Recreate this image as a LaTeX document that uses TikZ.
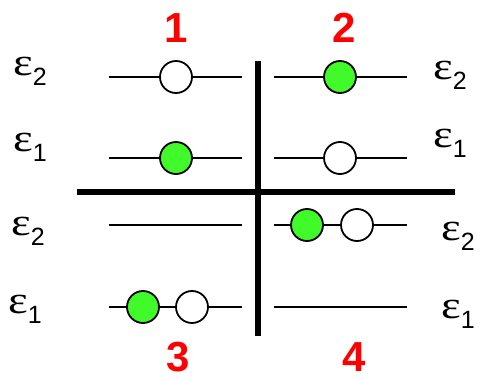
\documentclass[tikz,border=0pt]{standalone}
\usepackage{fontspec}
\setmainfont{Liberation Sans}
\newfontfamily\epsfont{Liberation Serif}
\definecolor{dotgreen}{RGB}{64,250,42}
\newcommand{\lev}[1]{\scalebox{1.2}[1]{\epsfont ε}\raisebox{-10pt}{\fontsize{25}{25}\selectfont #1}}

\begin{document}
\begin{tikzpicture}[x=1pt,y=-1pt,line cap=butt,
  level/.style={line width=2.2pt},
  bar/.style={line width=6pt},
  hole/.style={circle,draw,line width=1.8pt,fill=white,minimum size=32pt,inner sep=0pt},
  elec/.style={hole,fill=dotgreen},
  tag/.style={text=red,inner sep=0pt,font=\fontsize{42}{42}\selectfont\bfseries},
  eps/.style={anchor=base west,inner sep=0pt,font=\fontsize{39}{39}\selectfont}]
\useasboundingbox (0,0) rectangle (481,379);
% level end points
\coordinate (ta2l) at (109,77);  \coordinate (ta2r) at (242,77);
\coordinate (ta1l) at (109,158); \coordinate (ta1r) at (242,158);
\coordinate (tb2l) at (274,77);  \coordinate (tb2r) at (407,77);
\coordinate (tb1l) at (274,158); \coordinate (tb1r) at (407,158);
\coordinate (ba2l) at (109,225); \coordinate (ba2r) at (242,225);
\coordinate (ba1l) at (109,307); \coordinate (ba1r) at (242,307);
\coordinate (bb2l) at (274,225); \coordinate (bb2r) at (407,225);
\coordinate (bb1l) at (274,307); \coordinate (bb1r) at (407,307);
\coordinate (vtop) at (258,61);  \coordinate (vbot) at (258,336);
\coordinate (hlft) at (77,192);  \coordinate (hrgt) at (455,192);
\draw[bar] (vtop) -- (vbot);
\draw[bar] (hlft) -- (hrgt);
\draw[level] (ta2l) -- (ta2r);
\draw[level] (ta1l) -- (ta1r);
\draw[level] (tb2l) -- (tb2r);
\draw[level] (tb1l) -- (tb1r);
\draw[level] (ba2l) -- (ba2r);
\draw[level] (ba1l) -- (ba1r);
\draw[level] (bb2l) -- (bb2r);
\draw[level] (bb1l) -- (bb1r);
% occupancies
\node[hole] (h1) at (176,77) {};
\node[elec] (e1) at (176,158) {};
\node[elec] (e2) at (340,77) {};
\node[hole] (h2) at (340,158) {};
\node[elec] (e3) at (143,307) {};
\node[hole] (h3) at (192,307) {};
\node[elec] (e4) at (307,225) {};
\node[hole] (h4) at (357,225) {};
% case numbers
\node[tag] (n1) at (176,28) {1};
\node[tag] (n2) at (344,28) {2};
\node[tag] (n3) at (178,357) {3};
\node[tag] (n4) at (354,357) {4};
% level labels
\node[eps] (la2) at (13,76) {\lev{2}};
\node[eps] (la1) at (13,152) {\lev{1}};
\node[eps] (lc2) at (11,235) {\lev{2}};
\node[eps] (lc1) at (8,313) {\lev{1}};
\node[eps] (lb2) at (433,80) {\lev{2}};
\node[eps] (lb1) at (433,148) {\lev{1}};
\node[eps] (ld2) at (441,240) {\lev{2}};
\node[eps] (ld1) at (441,318) {\lev{1}};
\end{tikzpicture}
\end{document}
